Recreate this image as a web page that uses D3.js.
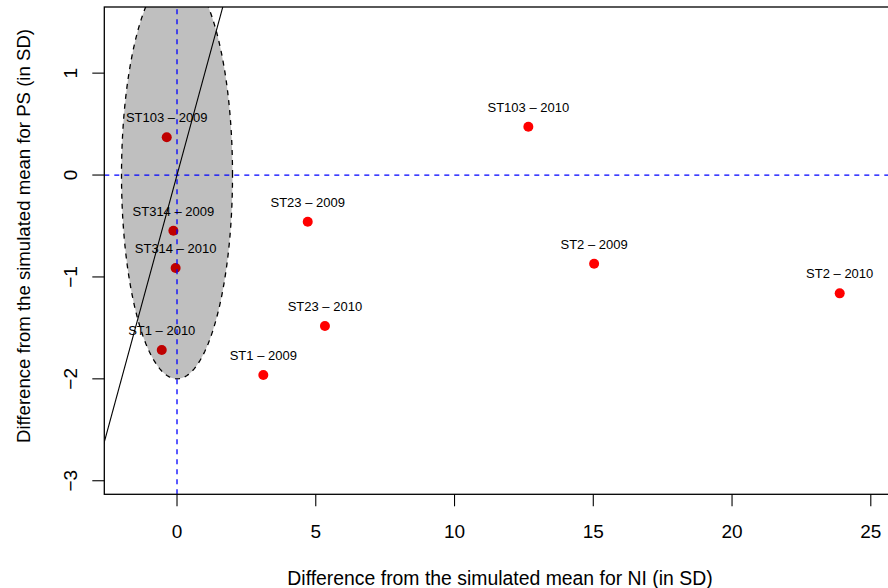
<!DOCTYPE html>
<html>
<head>
<meta charset="utf-8">
<script src="https://cdn.jsdelivr.net/npm/d3@7"></script>
<style>
  html, body { margin: 0; padding: 0; background: #fff; }
  svg { display: block; font-family: "Liberation Sans", Arial, Helvetica, sans-serif; }
</style>
</head>
<body>
<svg id="chart" width="888" height="588"></svg>
<script>
// Strain/year labels and their standardized differences
const strainLabels = ["ST103 – 2009", "ST314 – 2009", "ST314 – 2010", "ST1 – 2010", "ST1 – 2009",
                      "ST23 – 2009", "ST23 – 2010", "ST103 – 2010", "ST2 – 2009", "ST2 – 2010"];
const niDiff = [-0.37, -0.13, -0.05, -0.55, 3.11, 4.71, 5.33, 12.66, 15.03, 23.88];
const psDiff = [0.37, -0.547, -0.913, -1.717, -1.963, -0.458, -1.482, 0.474, -0.870, -1.161];

const xTicks = [0, 5, 10, 15, 20, 25];
const yTicks = [-3, -2, -1, 0, 1];

// Tolerance region: circle of radius 2 SD around the origin
const regionCenter = [0, 0];
const regionRadius = [2, 2];

const xTitle = "Difference from the simulated mean for NI (in SD)";
const yTitle = "Difference from the simulated mean for PS (in SD)";

const svg = d3.select("#chart");
const pLeft = 104.3, pRight = 893, pTop = 7, pBottom = 494.3;

const x = d3.scaleLinear().domain([-2.62, 25.8]).range([pLeft, pRight]);
const y = d3.scaleLinear().domain([-3.133, 1.649]).range([pBottom, pTop]);

svg.append("defs").append("clipPath").attr("id", "plotclip")
  .append("rect").attr("x", pLeft).attr("y", pTop)
  .attr("width", pRight - pLeft).attr("height", pBottom - pTop);

const plot = svg.append("g").attr("clip-path", "url(#plotclip)");

const data = strainLabels.map((lab, i) => ({ lab, nx: niDiff[i], py: psDiff[i] }));

// Points
plot.selectAll("circle.pt").data(data).enter().append("circle")
  .attr("class", "pt")
  .attr("cx", d => x(d.nx)).attr("cy", d => y(d.py))
  .attr("r", 5).attr("fill", "#ff0000");

// Semi-transparent region laid over the points
const ellipsePts = d3.range(0, 361, 2).map(a => {
  const t = a * Math.PI / 180;
  return [x(regionCenter[0] + regionRadius[0] * Math.cos(t)),
          y(regionCenter[1] + regionRadius[1] * Math.sin(t))];
});
plot.append("path")
  .attr("d", d3.line()(ellipsePts) + "Z")
  .attr("fill", "#000").attr("fill-opacity", 0.25)
  .attr("stroke", "none");
plot.append("path")
  .attr("d", d3.line()(ellipsePts) + "Z")
  .attr("fill", "none").attr("stroke", "#000")
  .attr("stroke-width", 1.3).attr("stroke-dasharray", "5,5");

// Reference lines
plot.append("line")
  .attr("x1", x(-2.62)).attr("y1", y(0)).attr("x2", x(25.8)).attr("y2", y(0))
  .attr("stroke", "#0000ff").attr("stroke-width", 1.3).attr("stroke-dasharray", "5,5");
plot.append("line")
  .attr("x1", x(0)).attr("y1", y(-3.133)).attr("x2", x(0)).attr("y2", y(1.649))
  .attr("stroke", "#0000ff").attr("stroke-width", 1.3).attr("stroke-dasharray", "5,5");
// Identity line y = x
plot.append("line")
  .attr("x1", x(-4)).attr("y1", y(-4)).attr("x2", x(4)).attr("y2", y(4))
  .attr("stroke", "#000").attr("stroke-width", 1.1);

// Point labels
plot.selectAll("text.lab").data(data).enter().append("text")
  .attr("class", "lab")
  .attr("x", d => x(d.nx)).attr("y", d => y(d.py) - 15)
  .attr("text-anchor", "middle")
  .attr("font-size", 13).attr("fill", "#000")
  .text(d => d.lab);

// Frame
svg.append("rect")
  .attr("x", pLeft).attr("y", pTop).attr("width", pRight - pLeft).attr("height", pBottom - pTop)
  .attr("fill", "none").attr("stroke", "#000").attr("stroke-width", 1.3);

// X axis ticks and labels
const xa = svg.append("g");
xa.selectAll("line").data(xTicks).enter().append("line")
  .attr("x1", d => x(d)).attr("x2", d => x(d))
  .attr("y1", pBottom).attr("y2", pBottom + 12)
  .attr("stroke", "#000").attr("stroke-width", 1.1);
xa.selectAll("text").data(xTicks).enter().append("text")
  .attr("x", d => x(d)).attr("y", 537.5)
  .attr("text-anchor", "middle").attr("font-size", 19)
  .text(d => d);

// Y axis ticks and labels (rotated)
const ya = svg.append("g");
ya.selectAll("line").data(yTicks).enter().append("line")
  .attr("x1", pLeft - 12).attr("x2", pLeft)
  .attr("y1", d => y(d)).attr("y2", d => y(d))
  .attr("stroke", "#000").attr("stroke-width", 1.1);
ya.selectAll("text").data(yTicks).enter().append("text")
  .attr("transform", d => `translate(77,${y(d)}) rotate(-90)`)
  .attr("text-anchor", "middle").attr("font-size", 19)
  .text(d => d < 0 ? "\u2212" + Math.abs(d) : String(d));

// Axis titles
svg.append("text")
  .attr("x", 500).attr("y", 585)
  .attr("text-anchor", "middle").attr("font-size", 19.4)
  .text(xTitle);
svg.append("text")
  .attr("transform", "translate(30,236) rotate(-90)")
  .attr("text-anchor", "middle").attr("font-size", 18.6)
  .text(yTitle);
</script>
</body>
</html>
